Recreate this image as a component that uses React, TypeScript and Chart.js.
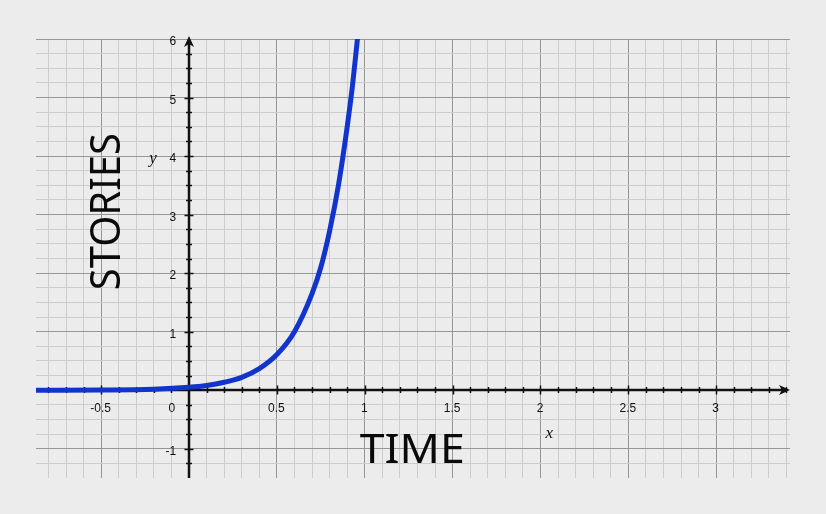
import React, { useEffect, useRef } from "react";
import { Chart, registerables } from "chart.js";

Chart.register(...registerables);

// ---- data ----
const X_MIN = -0.871;
const X_MAX = 3.42;
const Y_MIN = -1.5;
const Y_MAX = 6;

const curveX = [-0.871, -0.5, -0.2, 0, 0.1, 0.2, 0.3, 0.4, 0.5, 0.6, 0.7, 0.75, 0.8, 0.85, 0.9, 0.93, 0.96];
const curveY = [0.0006, 0.004, 0.018, 0.05, 0.08, 0.135, 0.22, 0.37, 0.61, 1.0, 1.65, 2.1, 2.72, 3.5, 4.5, 5.2, 6.05];

const xTickValues = [-0.5, 0, 0.5, 1, 1.5, 2, 2.5, 3];
const xTickLabels = ["-0.5", "0", "0.5", "1", "1.5", "2", "2.5", "3"];
const yTickValues = [-1, 1, 2, 3, 4, 5, 6];
const yTickLabels = ["-1", "1", "2", "3", "4", "5", "6"];

const xMinorStep = 0.1;
const yMinorStep = 0.25;
const xMajorStep = 0.5;
const yMajorStep = 1;

const xTitle = "TIME";
const yTitle = "STORIES";

const BG = "#ececec";
const MAJOR = "rgb(150,150,150)";
const MINOR = "rgb(204,204,204)";
const CURVE = "#1134cc";

function isMultiple(v: number, step: number) {
  const r = v / step;
  return Math.abs(r - Math.round(r)) < 1e-6;
}

function range(min: number, max: number, step: number) {
  const out: number[] = [];
  const start = Math.ceil(min / step - 1e-9);
  const end = Math.floor(max / step + 1e-9);
  for (let i = start; i <= end; i++) out.push(+(i * step).toFixed(6));
  return out;
}

function drawFitted(
  ctx: CanvasRenderingContext2D,
  text: string,
  cx: number,
  baseY: number,
  width: number,
  size: number
) {
  ctx.font = `${size}px "Noto Sans"`;
  const w = ctx.measureText(text).width;
  ctx.save();
  ctx.translate(cx, baseY);
  ctx.scale(width / w, 1);
  ctx.textAlign = "center";
  ctx.textBaseline = "alphabetic";
  ctx.fillText(text, 0, 0);
  ctx.restore();
}

const axesPlugin = {
  id: "axesPlugin",
  beforeDraw(chart: any) {
    const ctx = chart.ctx as CanvasRenderingContext2D;
    ctx.save();
    ctx.fillStyle = BG;
    ctx.fillRect(0, 0, chart.width, chart.height);
    ctx.restore();
  },
  beforeDatasetsDraw(chart: any) {
    const ctx = chart.ctx as CanvasRenderingContext2D;
    const xs = chart.scales.x;
    const ys = chart.scales.y;
    const area = chart.chartArea;
    const x0 = Math.round(xs.getPixelForValue(0));
    const y0 = Math.round(ys.getPixelForValue(0));
    ctx.save();
    ctx.strokeStyle = "#111";
    ctx.fillStyle = "#111";
    ctx.lineWidth = 2.5;
    // x axis
    ctx.beginPath();
    ctx.moveTo(area.left, y0);
    ctx.lineTo(area.right - 4, y0);
    ctx.stroke();
    // y axis
    ctx.beginPath();
    ctx.moveTo(x0, area.bottom);
    ctx.lineTo(x0, area.top + 4);
    ctx.stroke();
    // ticks x
    ctx.lineWidth = 1.5;
    range(X_MIN, X_MAX, xMinorStep).forEach((v) => {
      if (Math.abs(v) < 1e-9) return;
      const px = Math.round(xs.getPixelForValue(v)) + 0.5;
      const h = isMultiple(v, xMajorStep) ? 4.5 : 3;
      ctx.beginPath();
      ctx.moveTo(px, y0 - h);
      ctx.lineTo(px, y0 + h);
      ctx.stroke();
    });
    range(Y_MIN, Y_MAX, yMinorStep).forEach((v) => {
      if (Math.abs(v) < 1e-9 || v >= Y_MAX - 1e-9 || v <= Y_MIN + 1e-9) return;
      const py = Math.round(ys.getPixelForValue(v)) + 0.5;
      const h = isMultiple(v, yMajorStep) ? 4.5 : 3;
      ctx.beginPath();
      ctx.moveTo(x0 - h, py);
      ctx.lineTo(x0 + h, py);
      ctx.stroke();
    });
    // arrowheads
    const r = area.right;
    ctx.beginPath();
    ctx.moveTo(r, y0);
    ctx.lineTo(r - 11, y0 - 5);
    ctx.lineTo(r - 8, y0);
    ctx.lineTo(r - 11, y0 + 5);
    ctx.closePath();
    ctx.fill();
    const t = area.top - 3;
    ctx.beginPath();
    ctx.moveTo(x0, t);
    ctx.lineTo(x0 - 5, t + 11);
    ctx.lineTo(x0, t + 8);
    ctx.lineTo(x0 + 5, t + 11);
    ctx.closePath();
    ctx.fill();
    ctx.restore();
  },
  afterDraw(chart: any) {
    const ctx = chart.ctx as CanvasRenderingContext2D;
    const xs = chart.scales.x;
    const ys = chart.scales.y;
    const x0 = xs.getPixelForValue(0);
    const y0 = ys.getPixelForValue(0);
    ctx.save();
    ctx.fillStyle = "#111";
    ctx.font = '12px "Liberation Sans"';
    ctx.textBaseline = "middle";
    xTickValues.forEach((v, i) => {
      if (Math.abs(v) < 1e-9) {
        ctx.textAlign = "right";
        ctx.fillText(xTickLabels[i], x0 - 14, y0 + 18);
      } else {
        ctx.textAlign = "center";
        ctx.fillText(xTickLabels[i], xs.getPixelForValue(v) - 0.5, y0 + 18);
      }
    });
    ctx.textAlign = "right";
    yTickValues.forEach((v, i) => {
      ctx.fillText(yTickLabels[i], x0 - 13, ys.getPixelForValue(v) + 3);
    });
    // small italic axis letters
    ctx.font = 'italic 17px "Liberation Serif"';
    ctx.textBaseline = "alphabetic";
    ctx.textAlign = "center";
    ctx.fillText("y", x0 - 36, ys.getPixelForValue(4) + 7);
    ctx.fillText("x", xs.getPixelForValue(2.05), y0 + 48);
    // big titles
    ctx.fillStyle = "#0a0a0a";
    drawFitted(ctx, xTitle, xs.getPixelForValue(1.27), y0 + 73, 105, 40);
    ctx.save();
    ctx.translate(xs.getPixelForValue(-0.4) + 1, ys.getPixelForValue(3.05));
    ctx.rotate(-Math.PI / 2);
    drawFitted(ctx, yTitle, 0, 0, 157, 41);
    ctx.restore();
    ctx.restore();
  },
};

export default function App() {
  const ref = useRef<HTMLCanvasElement | null>(null);
  useEffect(() => {
    if (!ref.current) return;
    const xGrid = range(X_MIN, X_MAX, xMinorStep);
    const yGrid = range(Y_MIN, Y_MAX, yMinorStep);
    const chart = new Chart(ref.current, {
      type: "scatter",
      data: {
        datasets: [
          {
            data: curveX.map((x, i) => ({ x, y: curveY[i] })),
            showLine: true,
            borderColor: CURVE,
            borderWidth: 5,
            pointRadius: 0,
            cubicInterpolationMode: "monotone",
            borderCapStyle: "round",
            borderJoinStyle: "round",
          } as any,
        ],
      },
      options: {
        animation: false,
        responsive: false,
        events: [],
        layout: { padding: { left: 36, right: 36, top: 39, bottom: 36 } },
        plugins: { legend: { display: false }, tooltip: { enabled: false } },
        scales: {
          x: {
            type: "linear",
            min: X_MIN,
            max: X_MAX,
            afterBuildTicks: (s: any) => {
              s.ticks = xGrid.map((v) => ({ value: v }));
            },
            ticks: { display: false },
            border: { display: false },
            grid: {
              drawTicks: false,
              lineWidth: 1,
              color: (c: any) =>
                Math.abs(c.tick?.value) < 1e-9
                  ? "rgba(0,0,0,0)"
                  : isMultiple(c.tick?.value ?? 0.05, xMajorStep)
                  ? MAJOR
                  : MINOR,
            },
          },
          y: {
            type: "linear",
            min: Y_MIN,
            max: Y_MAX,
            afterBuildTicks: (s: any) => {
              s.ticks = yGrid.map((v) => ({ value: v }));
            },
            ticks: { display: false },
            border: { display: false },
            grid: {
              drawTicks: false,
              lineWidth: 1,
              color: (c: any) =>
                Math.abs(c.tick?.value) < 1e-9 || c.tick?.value <= Y_MIN + 1e-9
                  ? "rgba(0,0,0,0)"
                  : isMultiple(c.tick?.value ?? 0.05, yMajorStep)
                  ? MAJOR
                  : MINOR,
            },
          },
        },
      },
      plugins: [axesPlugin],
    });
    return () => chart.destroy();
  }, []);
  return (
    <div style={{ position: "absolute", left: 0, top: 0, width: 826, height: 514, background: BG }}>
      <canvas ref={ref} width={826} height={514} style={{ display: "block" }} />
    </div>
  );
}
